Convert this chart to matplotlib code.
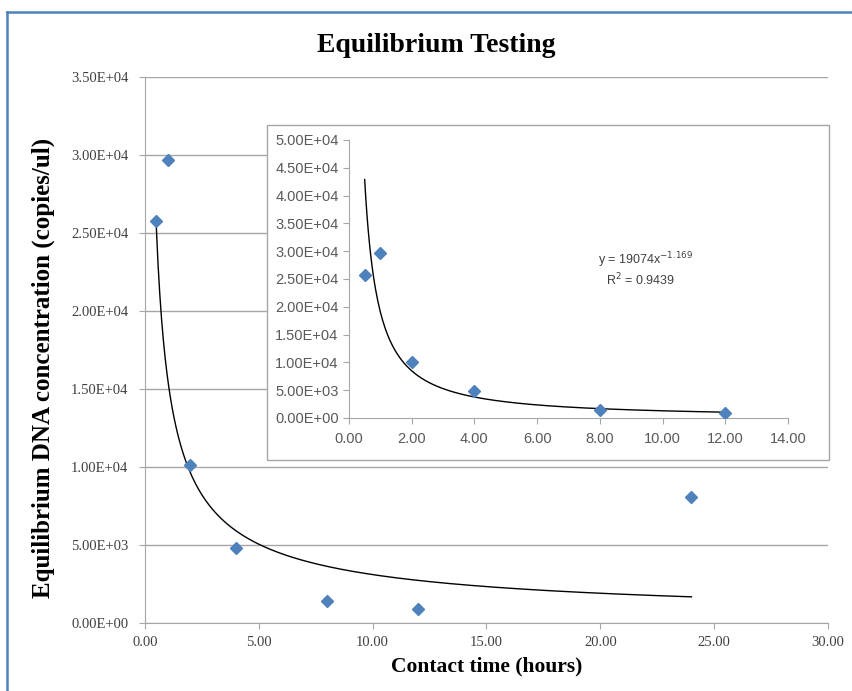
'''Equilibrium testing: DNA concentration vs contact time, with power trendlines'''

import numpy as np
import matplotlib.pyplot as plt
from matplotlib.patches import Rectangle
from matplotlib.lines import Line2D

# contact time (hours) and equilibrium DNA concentration (copies/ul)
hours = [0.5, 1, 2, 4, 8, 12, 24]
conc = [25800, 29700, 10100, 4800, 1400, 900, 8100]

# inset uses the first 12 hours only
inset_hours = hours[:6]
inset_conc = conc[:6]
fit_a = 19074
fit_b = -1.169
fit_r2 = 0.9439

blue = '#4F81BD'
grey = '#A6A6A6'
tick_col = '#404040'
serif = ['Liberation Serif', 'DejaVu Serif']
sans = ['Liberation Sans', 'DejaVu Sans']

fig = plt.figure(figsize=(8.52, 6.91), dpi=100)

# main chart
ax = fig.add_axes([0.170, 0.0984, 0.802, 0.790])
ax.plot(hours, conc, 'D', color=blue, markersize=6.5, zorder=4)

# power trendline over all points (least squares in log-log space, like Excel)
b, lna = np.polyfit(np.log(hours), np.log(conc), 1)
xs = np.linspace(min(hours), max(hours), 300)
ax.plot(xs, np.exp(lna) * xs ** b, color='black', lw=1.0, zorder=3)

ax.set_xlim(0, 30)
ax.set_ylim(0, 35000)
ax.set_xticks(np.arange(0, 31, 5))
ax.set_yticks(np.arange(0, 35001, 5000))
ax.set_xticklabels(['{:.2f}'.format(v) for v in np.arange(0, 31, 5)],
                   family=serif, fontsize=10.5, color=tick_col)
ax.set_yticklabels(['{:.2E}'.format(v) for v in np.arange(0, 35001, 5000)],
                   family=serif, fontsize=10.5, color=tick_col)
ax.yaxis.grid(True, color=grey, lw=1.0)
ax.set_axisbelow(True)
for s in ['top', 'right']:
    ax.spines[s].set_visible(False)
for s in ['left', 'bottom']:
    ax.spines[s].set_color(grey)
ax.tick_params(axis='both', color=grey, length=4, width=0.8)
ax.tick_params(axis='x', pad=5)
ax.tick_params(axis='y', pad=8)

fig.text(436 / 852, 1 - 46 / 691, 'Equilibrium Testing', family=serif,
         fontsize=20, fontweight='bold', ha='center', va='center')
ax.set_xlabel('Contact time (hours)', family=serif, fontsize=15.5,
              fontweight='bold', labelpad=6)
ax.set_ylabel('Equilibrium DNA concentration (copies/ul)', family=serif,
              fontsize=18, fontweight='bold')
ax.yaxis.set_label_coords(-0.132, 0.468)

# white panel behind the inset chart
fig.add_artist(Rectangle((0.3134, 0.3343), 0.6596, 0.4847, transform=fig.transFigure,
                         facecolor='white', edgecolor=grey, lw=1.0, zorder=5))

ins = fig.add_axes([0.4096, 0.3951, 0.5153, 0.4023], zorder=6)
ins.patch.set_alpha(0)
ins.plot(inset_hours, inset_conc, 'D', color=blue, markersize=6, zorder=4)
xi = np.linspace(min(inset_hours), max(inset_hours), 300)
ins.plot(xi, fit_a * xi ** fit_b, color='black', lw=1.0, zorder=3)
ins.set_xlim(0, 14)
ins.set_ylim(0, 50000)
ins.set_xticks(np.arange(0, 15, 2))
ins.set_yticks(np.arange(0, 50001, 5000))
ins.set_xticklabels(['{:.2f}'.format(v) for v in np.arange(0, 15, 2)],
                    family=sans, fontsize=10.5, color='#595959')
ins.set_yticklabels(['{:.2E}'.format(v) for v in np.arange(0, 50001, 5000)],
                    family=sans, fontsize=10.5, color='#595959')
for s in ['top', 'right']:
    ins.spines[s].set_visible(False)
for s in ['left', 'bottom']:
    ins.spines[s].set_color(grey)
ins.tick_params(axis='both', color=grey, length=4, width=0.8)
ins.tick_params(axis='x', pad=6)
ins.text(9.45, 28400, 'y = {}x$^{{{}}}$'.format(fit_a, fit_b), family=sans,
         fontsize=9, color='#404040', ha='center', va='center')
ins.text(9.3, 24800, 'R$^2$ = {}'.format(fit_r2), family=sans,
         fontsize=9, color='#404040', ha='center', va='center')

# chart border
y_top = 1 - 12 / 691
x_left = 7 / 852
fig.add_artist(Line2D([x_left, x_left], [0, y_top], color=blue, lw=1.8))
fig.add_artist(Line2D([x_left, 1], [y_top, y_top], color=blue, lw=1.8))

plt.savefig('out.png', dpi=100)
